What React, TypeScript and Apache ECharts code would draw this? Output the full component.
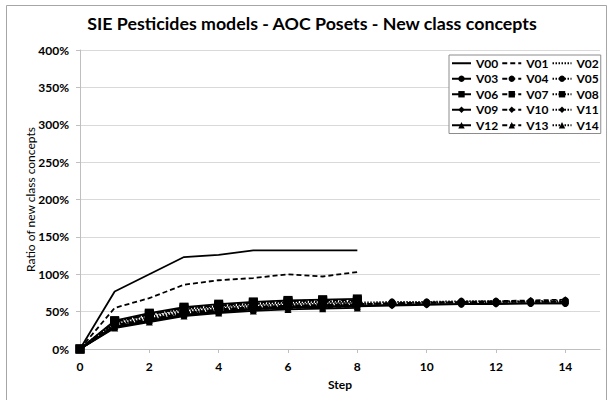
import React, { useEffect, useRef } from "react";
import * as echarts from "echarts";

const TITLE = "SIE Pesticides models - AOC Posets - New class concepts";
const X_NAME = "Step";
const Y_NAME = "Ratio of new class concepts";

const STEPS_SHORT = [0, 1, 2, 3, 4, 5, 6, 7, 8];
const STEPS_LONG = [0, 1, 2, 3, 4, 5, 6, 7, 8, 9, 10, 11, 12, 13, 14];
const X_TICKS = [0, 2, 4, 6, 8, 10, 12, 14];

const SERIES_NAMES = ["V00", "V01", "V02", "V03", "V04", "V05", "V06", "V07", "V08", "V09", "V10", "V11", "V12", "V13", "V14"];

const V00 = [0, 77, 100, 123, 126, 132, 132, 132, 132];
const V01 = [0, 55, 68, 86, 92, 95, 100, 97, 103];
const V02 = [0, 36, 46, 54, 58, 61, 63, 64, 64];
const V03 = [0, 30, 38, 46, 50, 54, 56, 57, 58, 59, 60, 60, 61, 61, 61];
const V04 = [0, 32, 40, 48, 53, 56, 58, 59, 60, 61, 62, 62, 63, 63, 63];
const V05 = [0, 34, 43, 51, 55, 58, 60, 61, 62, 63, 63, 64, 64, 64, 65];
const V06 = [0, 38, 48, 56, 60, 63, 65, 66, 67];
const V07 = [0, 36, 46, 55, 58, 62, 64, 65, 65];
const V08 = [0, 37, 47, 53, 57, 60, 62, 63, 63];
const V09 = [0, 29, 37, 45, 49, 53, 55, 56, 57, 58, 59, 60, 60, 61, 61];
const V10 = [0, 31, 39, 47, 52, 55, 57, 58, 60, 61, 62, 63, 64, 65, 66];
const V11 = [0, 33, 41, 49, 53, 56, 58, 59, 60, 61, 62, 62, 63, 63, 63];
const V12 = [0, 28, 36, 44, 48, 51, 53, 54, 55];
const V13 = [0, 30, 38, 46, 50, 53, 55, 56, 57];
const V14 = [0, 32, 40, 48, 51, 55, 57, 58, 59];

const VALUES = [V00, V01, V02, V03, V04, V05, V06, V07, V08, V09, V10, V11, V12, V13, V14];
const SYMBOLS = ["none", "circle", "rect", "diamond", "triangle"];
const SYMBOL_SIZES = [0, 7, 9, 7, 7];
const LINE_TYPES: any[] = ["solid", [5, 3], [1.5, 1.5]];

const FONT = "Lato";

export default function App() {
  const ref = useRef<HTMLDivElement>(null);
  useEffect(() => {
    if (!ref.current) return;
    const chart = echarts.init(ref.current, null, { renderer: "svg" });
    const series = SERIES_NAMES.map((name, i) => {
      const vals = VALUES[i];
      const steps = vals.length > 9 ? STEPS_LONG : STEPS_SHORT;
      const group = Math.floor(i / 3);
      return {
        name,
        type: "line",
        data: vals.map((v, k) => [steps[k], v]),
        symbol: SYMBOLS[group],
        symbolSize: SYMBOL_SIZES[group],
        showSymbol: group !== 0,
        itemStyle: { color: "#000" },
        lineStyle: { color: "#000", width: 1.8, type: LINE_TYPES[i % 3] },
        emphasis: { disabled: true },
      };
    });
    const legendData = SERIES_NAMES.map((name, i) =>
      i < 3
        ? { name, itemStyle: { color: "rgba(0,0,0,0)", borderColor: "rgba(0,0,0,0)", borderWidth: 0 } }
        : { name }
    );
    chart.setOption({
      animation: false,
      backgroundColor: "#fff",
      title: {
        text: TITLE,
        left: 307,
        textAlign: "center",
        top: 9,
        textStyle: { fontFamily: FONT, fontSize: 17.8, fontWeight: "bold", color: "#000" },
      },
      grid: { left: 80, top: 50, width: 520, height: 299, containLabel: false },
      legend: {
        data: legendData,
        left: 449,
        top: 55,
        width: 158,
        orient: "horizontal",
        itemWidth: 19,
        itemHeight: 8,
        itemGap: 3,
        padding: [2, 2, 2, 2],
        borderColor: "#8c8c8c",
        borderWidth: 1,
        backgroundColor: "#fff",
        textStyle: { fontFamily: FONT, fontSize: 12, fontWeight: "bold", color: "#000", lineHeight: 12.5 },
      },
      xAxis: {
        type: "value",
        min: 0,
        max: 15,
        interval: 2,
        name: X_NAME,
        nameLocation: "middle",
        nameGap: 29,
        nameTextStyle: { fontFamily: FONT, fontSize: 12, fontWeight: "bold", color: "#000" },
        axisLine: { show: true, lineStyle: { color: "#bfbfbf", width: 1 } },
        axisTick: { show: true, length: 4, lineStyle: { color: "#bfbfbf" }, customValues: X_TICKS },
        axisLabel: { fontFamily: FONT, fontSize: 12, fontWeight: "bold", color: "#000", margin: 11, customValues: X_TICKS },
        splitLine: { show: false },
      },
      yAxis: {
        type: "value",
        min: 0,
        max: 400,
        interval: 50,
        name: Y_NAME,
        nameLocation: "middle",
        nameGap: 44,
        nameMoveOverlap: false,
        nameTextStyle: { fontFamily: FONT, fontSize: 12, color: "#000" },
        axisLine: { show: true, lineStyle: { color: "#bfbfbf", width: 1 } },
        axisTick: { show: true, length: 4, lineStyle: { color: "#bfbfbf" } },
        axisLabel: { fontFamily: FONT, fontSize: 12, fontWeight: "bold", color: "#000", margin: 11, formatter: "{value}%" },
        splitLine: { show: true, lineStyle: { color: "#d9d9d9", width: 1 } },
      },
      graphic: [
        {
          type: "rect",
          shape: { x: 6.5, y: 5.5, width: 600, height: 400 },
          style: { fill: "none", stroke: "#a6a6a6", lineWidth: 1 },
          silent: true,
        },
      ],
      series,
    });
    return () => chart.dispose();
  }, []);
  return <div ref={ref} style={{ position: "fixed", left: 0, top: 0, width: 608, height: 400 }} />;
}
